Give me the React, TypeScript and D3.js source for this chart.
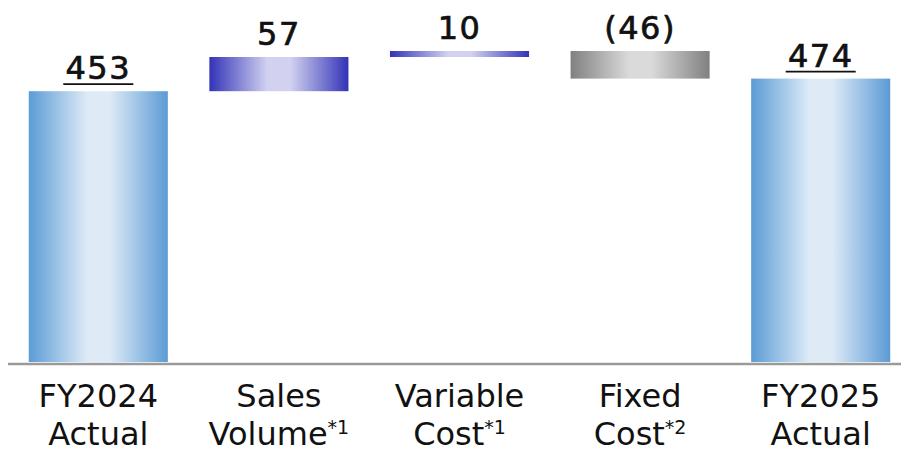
import React from 'react';
import * as d3 from 'd3';

const categories = ['FY2024 Actual', 'Sales Volume', 'Variable Cost', 'Fixed Cost', 'FY2025 Actual'];
const labelLines = [['FY2024', 'Actual'], ['Sales', 'Volume'], ['Variable', 'Cost'], ['Fixed', 'Cost'], ['FY2025', 'Actual']];
const footnotes = ['', '*1', '*1', '*2', ''];
const values = [453, 57, 10, -46, 474];
const kinds = ['total', 'up', 'up', 'down', 'total'];
const valueLabels = ['453', '57', '10', '(46)', '474'];

const W = 901;
const H = 452;
const baseY = 363;

const gradients: Record<string, [string, string]> = {
  total: ['#5b9bd5', '#deebf7'],
  up: ['#3333b8', '#d2d2f0'],
  down: ['#808080', '#dadada'],
};

export default function App() {
  const x = d3.scaleBand<string>()
    .domain(categories)
    .range([8, 911])
    .paddingInner(0.23)
    .paddingOuter(0.115);

  const y = d3.scaleLinear().domain([0, 605]).range([baseY, 0]);

  // running totals for the floating bars
  let run = 0;
  const bars = values.map((v, i) => {
    let lo: number, hi: number;
    if (kinds[i] === 'total') {
      lo = 0; hi = v; run = v;
    } else {
      const start = run;
      run = run + v;
      lo = Math.min(start, run); hi = Math.max(start, run);
    }
    return { cat: categories[i], lo, hi, kind: kinds[i], label: valueLabels[i] };
  });

  const font = '"DejaVu Sans", sans-serif';

  return (
    <svg width={W} height={H} style={{ position: 'absolute', left: 0, top: 0, background: '#fff' }}>
      <defs>
        {Object.entries(gradients).map(([k, [edge, mid]]) => (
          <linearGradient key={k} id={`g-${k}`} x1="0" x2="1" y1="0" y2="0">
            <stop offset="0" stopColor={edge} />
            <stop offset="0.42" stopColor={mid} />
            <stop offset="0.58" stopColor={mid} />
            <stop offset="1" stopColor={edge} />
          </linearGradient>
        ))}
      </defs>

      {bars.map((b, i) => {
        const bx = x(b.cat) || 0;
        const top = y(b.hi);
        const bottom = b.kind === 'total' ? baseY - 1 : y(b.lo);
        const cx = bx + x.bandwidth() / 2;
        const ty = top - 12;
        return (
          <g key={i}>
            <rect x={bx} y={top} width={x.bandwidth()} height={Math.max(1, bottom - top)} fill={`url(#g-${b.kind})`} />
            <text x={cx} y={ty} textAnchor="middle" fontFamily={font} fontSize={32} letterSpacing={1.5}
              fill="#111" stroke="#111" strokeWidth={0.7}>{b.label}</text>
            {b.kind === 'total' && (
              <line x1={cx - 35} x2={cx + 35} y1={ty + 5} y2={ty + 5} stroke="#111" strokeWidth={1.8} />
            )}
          </g>
        );
      })}

      <line x1={8} x2={W} y1={baseY + 1} y2={baseY + 1} stroke="#9a9a9a" strokeWidth={2.5} />

      {categories.map((c, i) => {
        const cx = (x(c) || 0) + x.bandwidth() / 2;
        return (
          <g key={c}>
            <text x={cx} y={407} textAnchor="middle" fontFamily={font} fontSize={32} fill="#111">
              {labelLines[i][0]}
            </text>
            <text x={cx} y={445} textAnchor="middle" fontFamily={font} fontSize={32} fill="#111">
              {labelLines[i][1]}
              {footnotes[i] && <tspan fontSize={19} dy={-11}>{footnotes[i]}</tspan>}
            </text>
          </g>
        );
      })}
    </svg>
  );
}
